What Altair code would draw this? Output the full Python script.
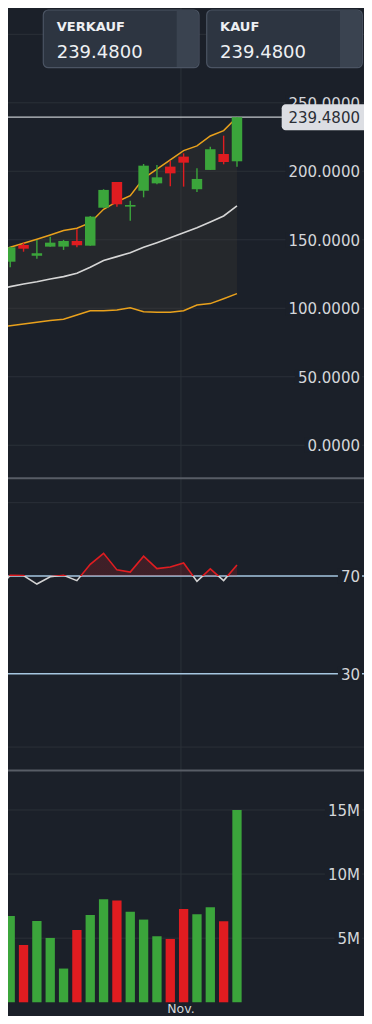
import altair as alt
import numpy as np
import pandas as pd

# ---------------- data ----------------
idx = list(range(-1, 18))
opens = [121.9, 134.0, 146.2, 138.4, 145.0, 145.0, 149.1, 145.7, 173.4, 192.2,
         174.2, 185.8, 191.2, 203.4, 210.7, 186.9, 201.0, 212.6, 207.3]
closes = [126.7, 144.5, 143.5, 140.1, 147.9, 149.1, 146.0, 166.9, 186.4, 175.9,
          175.4, 204.1, 195.6, 198.5, 206.3, 194.4, 216.1, 206.8, 239.48]
highs = [127.5, 145.0, 147.9, 149.9, 152.3, 149.9, 157.7, 167.4, 186.9, 192.2,
         178.5, 205.3, 204.6, 207.7, 213.1, 202.2, 218.0, 226.0, 239.48]
lows = [120.5, 129.9, 141.3, 136.2, 145.0, 142.6, 144.6, 145.7, 173.4, 174.2,
        163.9, 181.0, 190.5, 189.1, 188.8, 184.9, 201.0, 205.1, 203.4]
band_upper = [140.4, 144.5, 147.5, 150.4, 153.5, 156.7, 158.4, 162.5, 172.3, 177.8,
              182.2, 194.9, 201.5, 208.3, 215.1, 218.5, 225.8, 229.7, 239.5]
band_mid = [113.4, 115.8, 117.7, 119.4, 121.4, 123.1, 125.5, 130.0, 134.8, 137.7,
            140.6, 144.5, 147.9, 151.5, 155.2, 158.8, 163.0, 167.4, 174.7]
band_lower = [86.1, 87.3, 88.5, 89.8, 91.0, 92.0, 95.1, 98.2, 98.2, 98.8,
              100.4, 97.5, 97.1, 97.1, 98.2, 102.4, 103.4, 107.0, 110.7]
rsi = [64.0, 70.3, 70.2, 66.7, 69.7, 70.3, 68.1, 74.8, 79.3, 72.5,
       71.6, 78.1, 73.0, 73.7, 75.3, 67.8, 72.9, 68.1, 74.5]
volume_m = [4.99, 6.73, 4.47, 6.34, 5.02, 2.63, 5.64, 6.81, 8.03, 7.93,
            7.07, 6.45, 5.15, 4.94, 7.28, 6.86, 7.41, 6.32, 15.0]

price_ticks = [0, 50, 100, 150, 200, 250, 300]
price_tick_labels = ["0.0000", "50.0000", "100.0000", "150.0000", "200.0000", "250.0000", "300.0000"]
rsi_grid = [0, 100]
rsi_levels = [30, 70]
rsi_level_labels = ["30", "70"]
vol_ticks = [5, 10, 15]
vol_tick_labels = ["5M", "10M", "15M"]
month_pos = 12.8
month_label = "Nov."
button_labels = ["VERKAUF", "KAUF"]
last_price = 239.48

# ---------------- styles / layout ----------------
BG = "#1b2029"
GRID = "#2b3038"
SEP = "#585d66"
GREEN = "#3ba53b"
RED = "#e01c20"
ORANGE = "#e9a11c"
MA = "#d6d6d6"
LEVEL = "#a6c6e0"
TXT = "#d4d6da"
FONT = "DejaVu Sans"
FS = 15

W, H = 356, 1008
x_dom = [(8 - 10.2) / 13.34, (364 - 10.2) / 13.34]


def full_domain(top, bottom, lo, hi):
    """Domain over the whole chart height so that [lo, hi] fills pixels [top, bottom]."""
    k = (bottom - top) / (hi - lo)
    return [lo - (H - bottom) / k, hi + top / k]


P_DOM = full_domain(0, 470, -23.9, 319.2)
R_DOM = full_domain(470, 763, -9.8, 110.1)
V_DOM = full_domain(763, 1008, -1.07, 18.04)

df = pd.DataFrame({
    "i": idx, "open": opens, "close": closes, "high": highs, "low": lows,
    "upper": band_upper, "mid": band_mid, "lower": band_lower,
    "rsi": rsi, "vol": volume_m,
})
df["dir"] = np.where(df["close"] >= df["open"], "up", "down")
one = pd.DataFrame({"k": [0]})

xsc = alt.Scale(domain=x_dom, nice=False, zero=False)


def X(field="i"):
    return alt.X(field, type="quantitative", scale=xsc, axis=None)


def Y(field, dom):
    return alt.Y(field, type="quantitative", scale=alt.Scale(domain=dom, nice=False, zero=False), axis=None)


def YD(v, dom):
    return alt.YDatum(v, type="quantitative", scale=alt.Scale(domain=dom, nice=False, zero=False), axis=None)


color_dir = alt.Color("dir:N", scale=alt.Scale(domain=["up", "down"], range=[GREEN, RED]), legend=None)

CW = {"0": 0.636, "1": 0.636, "2": 0.636, "3": 0.636, "4": 0.636, "5": 0.636, "6": 0.636,
      "7": 0.636, "8": 0.636, "9": 0.636, ".": 0.318, "M": 0.863}


def text_w(s, size=FS):
    return sum(CW.get(c, 0.6) for c in s) * size


def axis_labels(ticks, labels, dom):
    t = pd.DataFrame({"v": ticks, "label": labels})
    out = []
    for v, lab in zip(ticks, labels):
        w = text_w(lab)
        out.append(
            alt.Chart(one).mark_rule(color=BG, strokeWidth=15).encode(
                y=YD(v, dom), x=alt.value(352 - w - 3), x2=alt.value(354))
        )
    out.append(
        alt.Chart(t).mark_text(align="right", baseline="middle", dy=1, font=FONT, fontSize=FS,
                               color=TXT).encode(
            x=alt.value(352), y=Y("v", dom), text="label:N")
    )
    return out


def separator(y):
    return alt.Chart(one).mark_rule(color=SEP, strokeWidth=2).encode(
        y=alt.value(y), x=alt.value(0), x2=alt.value(W))


layers = []

# vertical month grid line through all panels
layers.append(alt.Chart(one).mark_rule(color=GRID, strokeWidth=1).encode(
    x=alt.XDatum(month_pos, type="quantitative", scale=xsc, axis=None),
    y=alt.value(0), y2=alt.value(995)))

# ---------------- price panel ----------------
layers += [
    alt.Chart(pd.DataFrame({"v": price_ticks})).mark_rule(color=GRID, strokeWidth=1).encode(y=Y("v", P_DOM)),
    alt.Chart(df).mark_area(color="#3e3b36", opacity=0.3, clip=True).encode(
        x=X(), y=Y("upper", P_DOM), y2="lower:Q"),
    alt.Chart(df).mark_line(color=MA, strokeWidth=1.6, clip=True).encode(x=X(), y=Y("mid", P_DOM)),
    alt.Chart(df).mark_line(color=ORANGE, strokeWidth=1.5, clip=True).encode(x=X(), y=Y("upper", P_DOM)),
    alt.Chart(df).mark_line(color=ORANGE, strokeWidth=1.5, clip=True).encode(x=X(), y=Y("lower", P_DOM)),
    alt.Chart(one).mark_rule(color="#c4c7cc", strokeWidth=1.2).encode(
        y=YD(last_price, P_DOM), x=alt.value(0), x2=alt.value(W)),
    alt.Chart(df).mark_rule(strokeWidth=1.4, clip=True).encode(
        x=X(), y=Y("low", P_DOM), y2="high:Q", color=color_dir),
    alt.Chart(df).mark_bar(size=10.5, clip=True).encode(
        x=X(), y=Y("open", P_DOM), y2="close:Q", color=color_dir),
]
layers += axis_labels(price_ticks, price_tick_labels, P_DOM)
layers += [
    alt.Chart(one).mark_rect(color="#dcdee3", cornerRadius=4, yOffset=-13, y2Offset=13, clip=True).encode(
        x=alt.value(273.7), x2=alt.value(363.7), y=YD(last_price, P_DOM),
        y2=alt.Y2Datum(last_price)),
    alt.Chart(one).mark_text(align="right", baseline="middle", dy=1, font=FONT, fontSize=FS,
                             color="#2a2e35").encode(
        x=alt.value(352), y=YD(last_price, P_DOM), text=alt.value(f"{last_price:.4f}")),
]
for x0, x1, lab in [(35.3, 191.0, button_labels[0]), (198.7, 354.3, button_labels[1])]:
    layers += [
        alt.Chart(one).mark_rect(fill="#2d3541", stroke="#4b5463", strokeWidth=1.2, cornerRadius=5).encode(
            x=alt.value(x0), x2=alt.value(x1), y=alt.value(2), y2=alt.value(59.7)),
        alt.Chart(one).mark_rect(fill="#3a4350", cornerRadiusTopRight=5, cornerRadiusBottomRight=5).encode(
            x=alt.value(x1 - 22.3), x2=alt.value(x1 - 0.6), y=alt.value(2.6), y2=alt.value(59.1)),
        alt.Chart(one).mark_text(align="left", baseline="alphabetic", font=FONT, fontSize=13,
                                 fontWeight="bold", color="#eef0f3").encode(
            x=alt.value(x0 + 13.4), y=alt.value(23), text=alt.value(lab)),
        alt.Chart(one).mark_text(align="left", baseline="alphabetic", font=FONT, fontSize=18,
                                 color="#eef0f3").encode(
            x=alt.value(x0 + 13.4), y=alt.value(50.3), text=alt.value(f"{last_price:.4f}")),
    ]

# ---------------- RSI panel ----------------
r_hi = max(max(rsi), 70)
r_lo = min(min(rsi), 70)
off = (r_hi - 70) / (r_hi - r_lo)
line_grad = alt.Gradient(gradient="linear", x1=0, x2=0, y1=0, y2=1, stops=[
    alt.GradientStop(color=RED, offset=0), alt.GradientStop(color=RED, offset=off),
    alt.GradientStop(color="#d2d2d2", offset=off), alt.GradientStop(color="#d2d2d2", offset=1)])
fill_grad = alt.Gradient(gradient="linear", x1=0, x2=0, y1=0, y2=1, stops=[
    alt.GradientStop(color="rgba(224,28,32,0.18)", offset=0),
    alt.GradientStop(color="rgba(224,28,32,0.18)", offset=off),
    alt.GradientStop(color="rgba(0,0,0,0)", offset=off),
    alt.GradientStop(color="rgba(0,0,0,0)", offset=1)])

layers += [
    alt.Chart(pd.DataFrame({"v": rsi_grid})).mark_rule(color=GRID, strokeWidth=1).encode(y=Y("v", R_DOM)),
    alt.Chart(pd.DataFrame({"v": rsi_levels})).mark_rule(color=LEVEL, strokeWidth=1.5).encode(y=Y("v", R_DOM)),
]
layers += axis_labels(rsi_levels, rsi_level_labels, R_DOM)
layers += [
    alt.Chart(df).mark_area(fill=fill_grad, clip=True).encode(
        x=X(), y=Y("rsi", R_DOM), y2=alt.Y2Datum(70)),
    alt.Chart(df).mark_line(stroke=line_grad, strokeWidth=1.6, clip=True).encode(
        x=X(), y=Y("rsi", R_DOM)),
]

# ---------------- volume panel ----------------
layers += [
    alt.Chart(pd.DataFrame({"v": vol_ticks})).mark_rule(color=GRID, strokeWidth=1).encode(y=Y("v", V_DOM)),
]
layers += axis_labels(vol_ticks, vol_tick_labels, V_DOM)
layers += [
    alt.Chart(df).mark_bar(size=9.3, clip=True).encode(
        x=X(), y=Y("vol", V_DOM), y2=alt.Y2Datum(0), color=color_dir),
    alt.Chart(one).mark_text(align="center", baseline="alphabetic", font=FONT, fontSize=12.5,
                             color=TXT).encode(
        x=alt.XDatum(month_pos, type="quantitative", scale=xsc, axis=None),
        y=alt.value(1004.5), text=alt.value(month_label)),
]

# panel separators
layers += [separator(470.3), separator(762.6)]

chart = alt.layer(*layers).resolve_scale(y="independent").properties(
    width=W, height=H, padding=0, autosize=alt.AutoSizeParams(type="none")
).configure(background=BG).configure_scale(continuousPadding=0).configure_view(stroke=None)

chart.save("out.html", embed_options={"renderer": "svg", "actions": False})
